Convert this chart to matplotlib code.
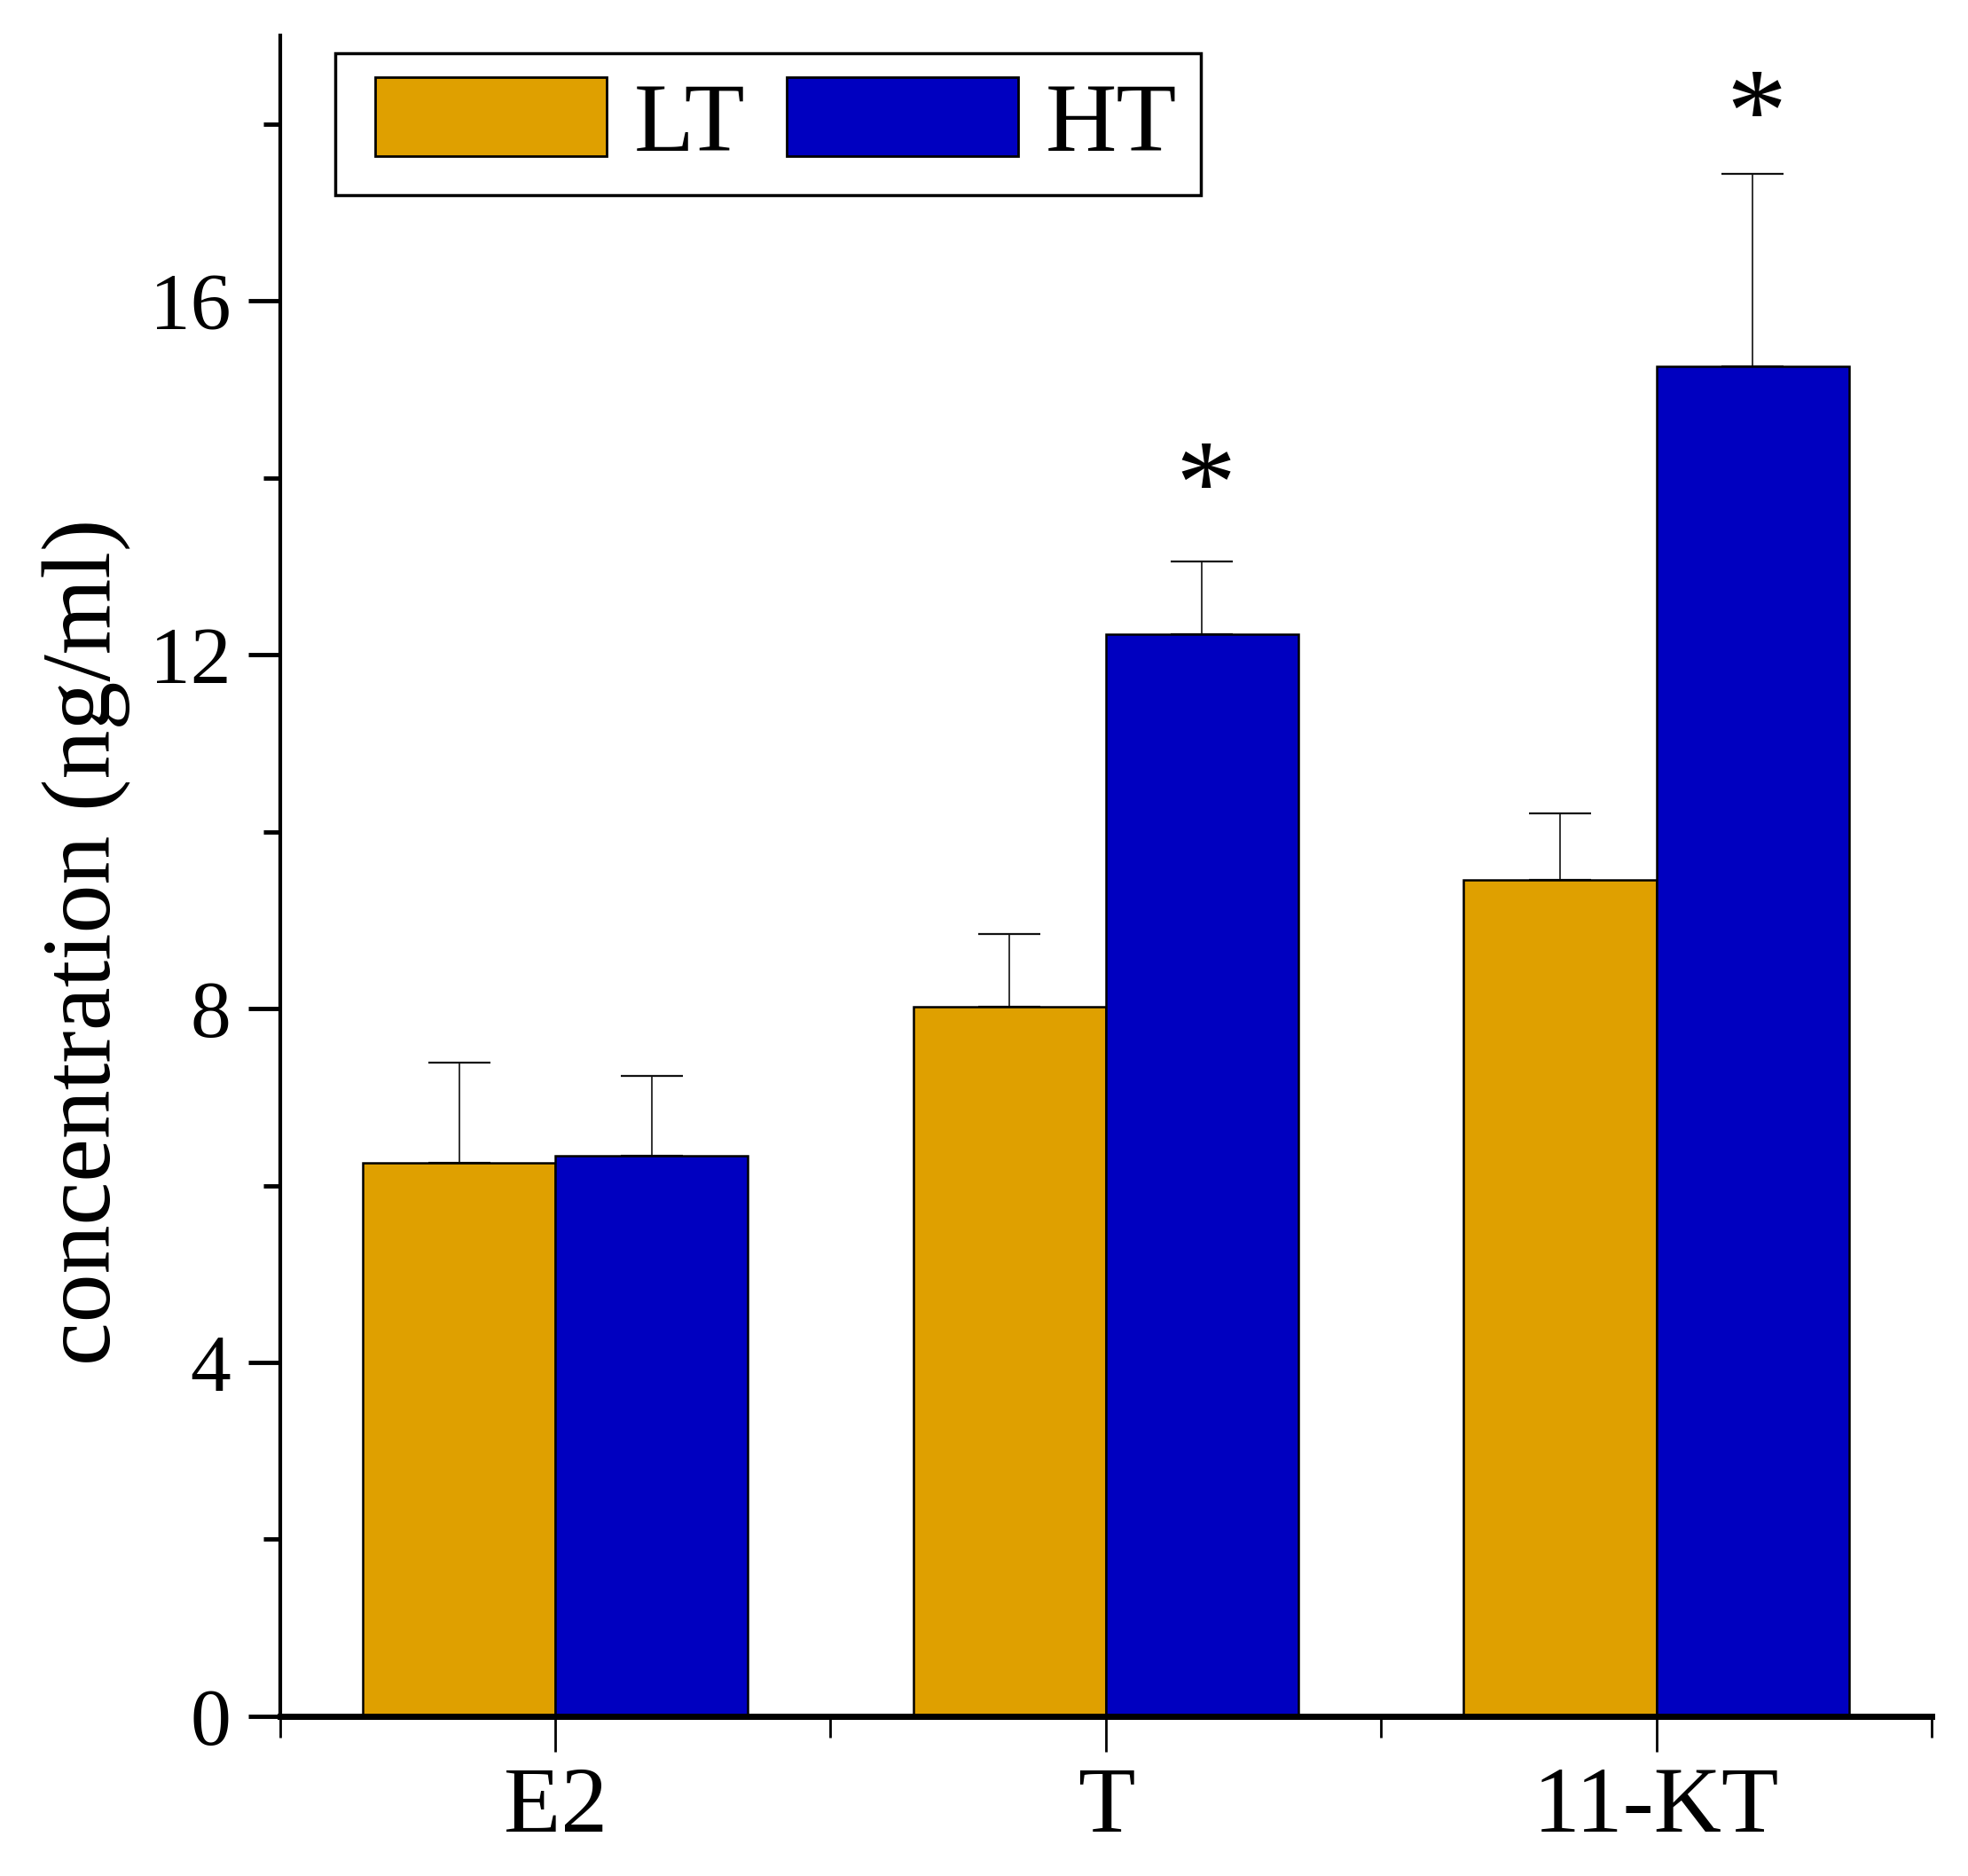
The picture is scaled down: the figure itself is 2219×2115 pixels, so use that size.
import matplotlib
matplotlib.use("Agg")
import matplotlib.pyplot as plt
import numpy as np
from matplotlib.ticker import MultipleLocator, FixedLocator
from matplotlib.patches import Rectangle
from matplotlib.container import BarContainer
from matplotlib.legend_handler import HandlerPatch, update_from_first_child

plt.rcParams['font.family'] = ['Liberation Serif', 'DejaVu Serif']

categories = ["E2", "T", "11-KT"]
lt_values = [6.26, 8.02, 9.45]
lt_errors = [1.13, 0.82, 0.76]
ht_values = [6.34, 12.23, 15.26]
ht_errors = [0.90, 0.82, 2.18]
ht_marks = ["", "*", "*"]
ht_mark_y = [None, 14.05, 18.25]

lt_color = "#DFA000"
ht_color = "#0000C0"

fig = plt.figure(figsize=(22.19, 21.15), dpi=100)
ax = fig.add_axes([0.1423, 0.0852, 0.8392, 0.8958])

x = np.arange(1, len(categories) + 1)
w = 0.35
ax.bar(x - w / 2, lt_values, w, color=lt_color, edgecolor="black", linewidth=1.8, label="LT", zorder=2)
ax.bar(x + w / 2, ht_values, w, color=ht_color, edgecolor="black", linewidth=1.8, label="HT", zorder=2)
for xs, vals, errs in ((x - w / 2, lt_values, lt_errors), (x + w / 2, ht_values, ht_errors)):
    ax.errorbar(xs, vals, yerr=[np.zeros(len(vals)), errs], fmt="none", ecolor="#111111",
                elinewidth=1.2, capsize=25, capthick=1.6, zorder=1)

star_fs = 98
for xi, m, my in zip(x, ht_marks, ht_mark_y):
    if m:
        ax.annotate(m, xy=(xi + w / 2, my), xytext=(3, -0.62 * star_fs), textcoords="offset points",
                    ha="center", va="bottom", fontsize=star_fs)

ax.set_xlim(0.5, 3.5)
ax.set_ylim(0, 19)
ax.set_xticks(x)
ax.set_xticklabels(categories)
ax.xaxis.set_minor_locator(FixedLocator([0.5, 1.5, 2.5, 3.5]))
ax.yaxis.set_major_locator(MultipleLocator(4))
ax.yaxis.set_minor_locator(MultipleLocator(2))

for s in ["top", "right"]:
    ax.spines[s].set_visible(False)
ax.spines["left"].set_linewidth(3)
ax.spines["bottom"].set_linewidth(5)

ax.tick_params(axis="x", which="major", length=29, width=2, labelsize=76, pad=12, direction="out")
ax.tick_params(axis="x", which="minor", length=17, width=2, direction="out")
ax.tick_params(axis="y", which="major", length=26, width=3.5, labelsize=66, pad=14, direction="out")
ax.tick_params(axis="y", which="minor", length=14, width=3.5, direction="out")

ax.set_ylabel("concentration (ng/ml)", fontsize=79)
ax.yaxis.set_label_coords(-0.090, 0.461)

LEG_FS = 80
HANDLE_OFFSET = 13.3  # points of blank space before each legend patch


def shifted_patch(legend, orig_handle, xdescent, ydescent, width, height, fontsize):
    return Rectangle((-xdescent + HANDLE_OFFSET, -ydescent), width - HANDLE_OFFSET, height)


leg = ax.legend(loc="upper left", bbox_to_anchor=(0.0334, 0.9895), borderaxespad=0, ncol=2,
                fontsize=LEG_FS, frameon=True, fancybox=False, edgecolor="black", framealpha=1,
                handlelength=2.51, handleheight=0.86, handletextpad=0.28, columnspacing=0.26,
                borderpad=0.24,
                handler_map={BarContainer: HandlerPatch(patch_func=shifted_patch,
                                                        update_func=update_from_first_child)})
leg.get_frame().set_linewidth(2.5)
for h in leg.legend_handles:
    h.set_linewidth(2.0)

fig.savefig("out.png", dpi=100)
